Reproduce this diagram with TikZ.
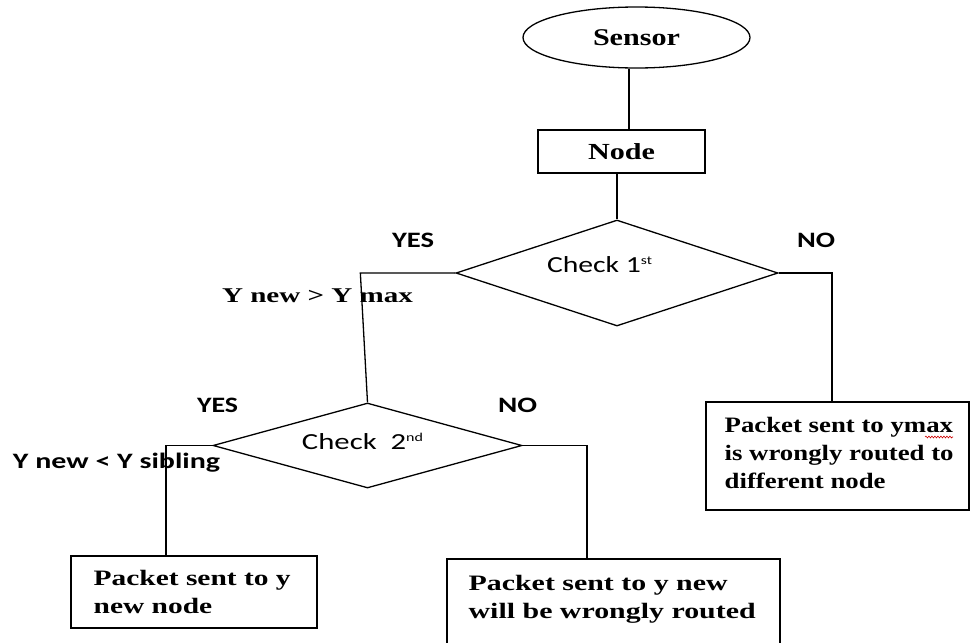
\documentclass[tikz,border=0pt]{standalone}
\usepackage{fontspec}
\usepackage{graphicx}
\setmainfont{Liberation Serif}
\newfontfamily\calfnt{Carlito}
\usetikzlibrary{shapes.geometric,decorations.pathmorphing}
\newcommand\fw[2]{\resizebox{#1}{\height}{#2}}
\newcommand\supsm[1]{\raisebox{8pt}{\fontsize{12}{12}\selectfont #1}}
\begin{document}
\begin{tikzpicture}[x=1pt,y=-1pt,line width=1.3pt,
  serifb/.style={font=\fontsize{22}{28}\selectfont\bfseries,inner sep=0},
  sansb/.style={font=\fontsize{22}{26}\selectfont\calfnt\bfseries,inner sep=0},
  sansr/.style={font=\fontsize{23}{26}\selectfont\calfnt,inner sep=0},
  boxn/.style={draw,rectangle,inner sep=0},
  decis/.style={draw,diamond,inner sep=0}]
\useasboundingbox (0,0) rectangle (970,643);
% shapes
\node[draw,ellipse,minimum width=227pt,minimum height=61pt,inner sep=0,
      font=\fontsize{24}{28}\selectfont\bfseries] (sensor) at (636.5,37.5) {\fw{87pt}{Sensor}};
\node[boxn,minimum width=167pt,minimum height=43pt,
      font=\fontsize{23}{28}\selectfont\bfseries] (nodebox) at (621.5,151.5) {\fw{67pt}{Node}};
\node[decis,minimum width=322pt,minimum height=106pt] (d1) at (617,273) {};
\node[decis,minimum width=309pt,minimum height=85pt] (d2) at (367.5,445.5) {};
\node[boxn,minimum width=263pt,minimum height=108pt] (b3) at (837.5,456) {};
\node[boxn,minimum width=246pt,minimum height=72pt] (b1) at (194,592) {};
\node[boxn,minimum width=333pt,minimum height=91pt] (b2) at (613.5,604.5) {};
% texts in shapes
\node[sansr,anchor=base] (d1t) at (599.5,272) {\fw{105pt}{Check 1\supsm{st}}};
\node[sansr,anchor=base] (d2t) at (362.5,449) {\fw{121pt}{Check\ \ 2\supsm{nd}}};
\node[serifb,anchor=base west] (b3t) at (724,432) {\fw{229pt}{\begin{tabular}[t]{@{}l@{}}Packet sent to ymax\\ is wrongly routed to\\ different node\end{tabular}}};
\node[serifb,anchor=base west] (b1t) at (93,585) {\fw{197pt}{\begin{tabular}[t]{@{}l@{}}Packet sent to y\\ new node\end{tabular}}};
\node[serifb,anchor=base west] (b2t) at (468,590) {\fw{287pt}{\begin{tabular}[t]{@{}l@{}}Packet sent to y new\\ will be wrongly routed\end{tabular}}};
% branch labels
\node[sansb,anchor=base] (yes1) at (413,247) {\fw{42pt}{YES}};
\node[sansb,anchor=base] (no1) at (816,247) {\fw{38pt}{NO}};
\node[serifb,anchor=base,font=\fontsize{21}{26}\selectfont\bfseries] (cond1) at (317.5,302) {\fw{191pt}{Y new > Y max}};
\node[sansb,anchor=base] (yes2) at (217.5,412) {\fw{41pt}{YES}};
\node[sansb,anchor=base] (no2) at (517.5,412) {\fw{39pt}{NO}};
\node[sansb,anchor=base] (cond2) at (116.5,468) {\fw{207pt}{Y new < Y sibling}};
% connectors
\draw ([xshift=-7.5pt]sensor.south) -- ([xshift=7.5pt]nodebox.north);
\draw (d1.north |- nodebox.south) -- (d1.north);
\draw (d1.west) -- ++(-95,0) -- (d2.north);
\draw (d1.east) -| ([xshift=-5.5pt]b3.north);
\draw (d2.west) -| ([xshift=-28pt]b1.north);
\draw (d2.east) -| ([xshift=-26.5pt]b2.north);
% spell-check squiggle
\draw[red!80!black,line width=0.6pt,decorate,decoration={snake,amplitude=0.9pt,segment length=3pt}]
  (925,437) -- (953,437);
\end{tikzpicture}
\end{document}
